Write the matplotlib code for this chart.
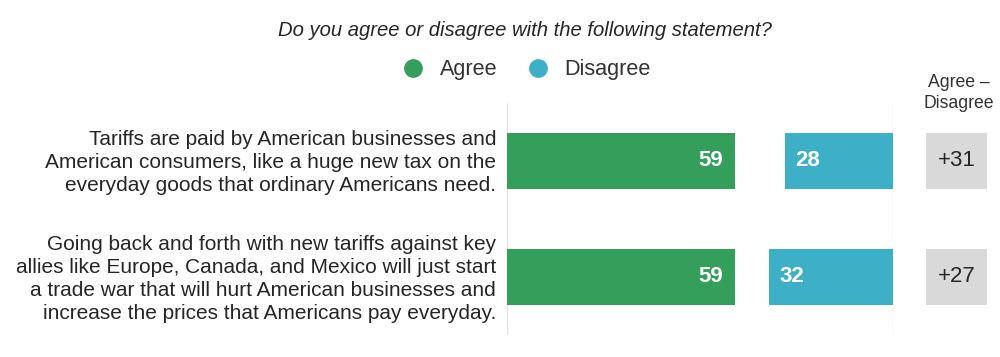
import matplotlib
matplotlib.use("Agg")
import matplotlib.pyplot as plt
from matplotlib.lines import Line2D

plt.rcParams['font.family'] = ['Liberation Sans', 'DejaVu Sans']

title = "Do you agree or disagree with the following statement?"
statements = [
    "Tariffs are paid by American businesses and\nAmerican consumers, like a huge new tax on the\neveryday goods that ordinary Americans need.",
    "Going back and forth with new tariffs against key\nallies like Europe, Canada, and Mexico will just start\na trade war that will hurt American businesses and\nincrease the prices that Americans pay everyday.",
]
agree = [59, 59]
disagree = [28, 32]
series_names = ["Agree", "Disagree"]
diff_header = "Agree –\nDisagree"

green = "#349e5b"
teal = "#3db0c8"
grey_box = "#d9d9d9"
text_col = "#262626"

W, H = 1000, 357
fig = plt.figure(figsize=(W / 100, H / 100), dpi=100)

def fx(px):
    return px / W

def fy(py):
    return 1 - py / H

# main bar axes
ax = fig.add_axes([fx(507), fy(335), fx(893 - 507), (335 - 103) / H])
ypos = list(range(len(statements)))
bh = 0.49
ax.barh(ypos, agree, height=bh, color=green, left=0)
ax.barh(ypos, disagree, height=bh, color=teal, left=[100 - d for d in disagree])
ax.set_xlim(0, 100)
ax.set_ylim(1.5, -0.5)
ax.axvline(0, color="#e2e2e2", lw=1, zorder=0)
ax.axvline(100, color="#e2e2e2", lw=1, zorder=0)
for s in ax.spines.values():
    s.set_visible(False)
ax.set_xticks([])
ax.set_yticks([])

for i in ypos:
    ax.text(agree[i] - 3.0, i, f"{agree[i]}", color="white", fontweight="bold",
            fontsize=16, ha="right", va="center")
    ax.text(100 - disagree[i] + 2.6, i, f"{disagree[i]}", color="white", fontweight="bold",
            fontsize=16, ha="left", va="center")
    ax.text(-2.8, i + 0.015, statements[i], ha="right", va="center", fontsize=15,
            color=text_col, linespacing=1.27, transform=ax.transData, clip_on=False)

# difference boxes
ax2 = fig.add_axes([fx(926), fy(335), fx(987 - 926), (335 - 103) / H])
ax2.barh(ypos, [1] * len(ypos), height=bh, color=grey_box, left=0)
ax2.set_xlim(0, 1)
ax2.set_ylim(1.5, -0.5)
ax2.axis("off")
for i in ypos:
    d = agree[i] - disagree[i]
    ax2.text(0.5, i, f"{d:+d}", ha="center", va="center", fontsize=16, color=text_col)

fig.text(fx(959), fy(93), diff_header, ha="center", va="center", fontsize=12.7,
         color="#333333", linespacing=1.3)

# title
fig.text(fx(525), fy(30), title, ha="center", va="center", fontsize=14.6,
         style="italic", color=text_col)

# legend
handles = [Line2D([], [], marker="o", ls="", markersize=12.5, color=c) for c in (green, teal)]
leg = fig.legend(handles, series_names, loc="center", bbox_to_anchor=(fx(521), fy(70)),
                 ncol=2, frameon=False, fontsize=15.6, handletextpad=0.25, columnspacing=0.85,
                 labelcolor="#333333")

fig.savefig("out.png", dpi=100)
